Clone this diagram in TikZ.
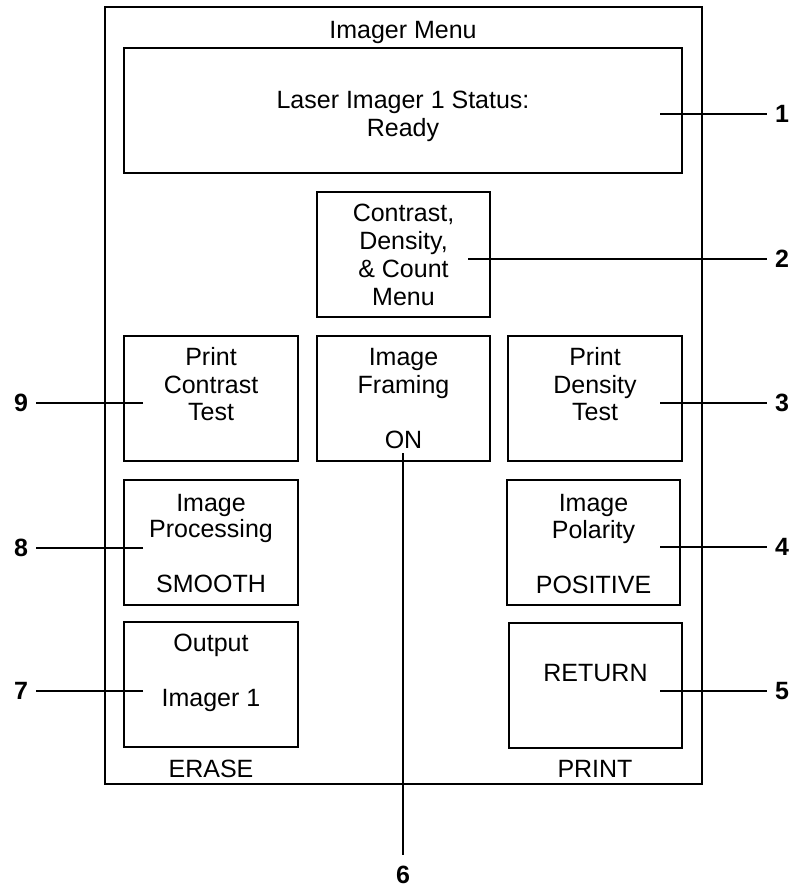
\documentclass[tikz,border=0pt]{standalone}
\usepackage{fontspec}
\setmainfont{Liberation Sans}
\begin{document}
\begin{tikzpicture}[x=1pt,y=-1pt,
  box/.style={draw, line width=2.3pt, inner sep=0pt, rectangle},
  txt/.style={anchor=base, inner sep=0pt, font=\fontsize{25}{28}\selectfont},
  num/.style={anchor=base, inner sep=0pt, font=\fontsize{25}{28}\selectfont\bfseries},
  conn/.style={line width=2.2pt}]
\useasboundingbox (0,0) rectangle (795,888);
% outer frame
\node[box, minimum width=597pt, minimum height=777pt] (frame) at (403.5,395.5) {};
% boxes
\node[box, minimum width=558pt, minimum height=125pt] (status) at (403,110.5) {};
\node[box, minimum width=173pt, minimum height=125pt] (cdc) at (403.5,254.5) {};
\node[box, minimum width=174pt, minimum height=125pt] (pct) at (211,398.5) {};
\node[box, minimum width=173pt, minimum height=125pt] (frm) at (403.5,398.5) {};
\node[box, minimum width=174pt, minimum height=125pt] (pdt) at (595,398.5) {};
\node[box, minimum width=174pt, minimum height=125pt] (proc) at (211,542.5) {};
\node[box, minimum width=173pt, minimum height=125pt] (pol) at (593.5,542.5) {};
\node[box, minimum width=174pt, minimum height=125pt] (outp) at (211,684.5) {};
\node[box, minimum width=173pt, minimum height=125pt] (ret) at (595.5,685.5) {};
% texts
\node[txt] (title) at (403,39) {Imager Menu};
\node[txt] (st1) at (403,108.5) {Laser Imager 1 Status:};
\node[txt] (st2) at (403,136.5) {Ready};
\node[txt] (c1) at (403.5,221.5) {Contrast,};
\node[txt] (c2) at (403.5,249.5) {Density,};
\node[txt] (c3) at (403.5,277.5) {\& Count};
\node[txt] (c4) at (403.5,305.5) {Menu};
\node[txt] (p1) at (211,365.5) {Print};
\node[txt] (p2) at (211,393.3) {Contrast};
\node[txt] (p3) at (211,420.8) {Test};
\node[txt] (f1) at (403.5,365.5) {Image};
\node[txt] (f2) at (403.5,393.3) {Framing};
\node[txt] (f3) at (403.5,448.5) {ON};
\node[txt] (d1) at (595,365.5) {Print};
\node[txt] (d2) at (595,393.3) {Density};
\node[txt] (d3) at (595,420.8) {Test};
\node[txt] (i1) at (211,511) {Image};
\node[txt] (i2) at (211,537.5) {Processing};
\node[txt] (i3) at (211,592) {SMOOTH};
\node[txt] (o1) at (593.5,511) {Image};
\node[txt] (o2) at (593.5,538) {Polarity};
\node[txt] (o3) at (593.5,593.5) {POSITIVE};
\node[txt] (u1) at (211,651.5) {Output};
\node[txt] (u2) at (211,706.5) {Imager 1};
\node[txt] (r1) at (595.5,681.5) {RETURN};
\node[txt] (erase) at (211,777.5) {ERASE};
\node[txt] (print) at (595,777) {PRINT};
% callout labels
\node[num] (n1) at (782,122.6) {1};
\node[num] (n2) at (782,267.6) {2};
\node[num] (n3) at (782,411.6) {3};
\node[num] (n4) at (782,555.6) {4};
\node[num] (n5) at (782,699.6) {5};
\node[num] (n6) at (403,883.6) {6};
\node[num] (n7) at (21,699.6) {7};
\node[num] (n8) at (21,556.6) {8};
\node[num] (n9) at (21,411.6) {9};
% connector endpoints
\coordinate (a1) at (660,114); \coordinate (b1) at (767,114);
\coordinate (a2) at (468,259); \coordinate (b2) at (767,259);
\coordinate (a3) at (660,403); \coordinate (b3) at (767,403);
\coordinate (a4) at (660,547); \coordinate (b4) at (767,547);
\coordinate (a5) at (660,691); \coordinate (b5) at (767,691);
\coordinate (a6) at (403,453); \coordinate (b6) at (403,855);
\coordinate (a7) at (143,691); \coordinate (b7) at (36,691);
\coordinate (a8) at (143,548); \coordinate (b8) at (36,548);
\coordinate (a9) at (143,403); \coordinate (b9) at (36,403);
\foreach \i in {1,...,9} {\draw[conn] (a\i) -- (b\i);}
\end{tikzpicture}
\end{document}
